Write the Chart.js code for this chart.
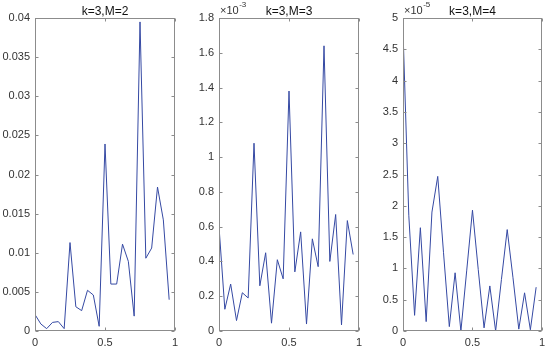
<!DOCTYPE html>
<html>
<head>
<meta charset="utf-8">
<script src="https://cdn.jsdelivr.net/npm/chart.js@4.4.0/dist/chart.umd.min.js"></script>
<style>
  body { margin: 0; background: #fff; width: 550px; height: 352px; position: relative; overflow: hidden; }
  canvas { position: absolute; top: 0; }
</style>
</head>
<body>
<canvas id="c1" width="185" height="352" style="left:0px"></canvas>
<canvas id="c2" width="185" height="352" style="left:184px"></canvas>
<canvas id="c3" width="182" height="352" style="left:368px"></canvas>
<script>
// sample positions, 24 points on [0, 1)
const xPos = [0, 1, 2, 3, 4, 5, 6, 7, 8, 9, 10, 11, 12, 13, 14, 15, 16, 17, 18, 19, 20, 21, 22, 23].map(i => i / 24);
const xTicks = [0, 0.5, 1];

// k=3,M=2 (plain units)
const errM2 = [0.0021, 0.0009, 0.0003, 0.0011, 0.0012, 0.0003, 0.0113, 0.0031, 0.0026, 0.0052, 0.0046, 0.0006,
  0.0239, 0.006, 0.006, 0.0111, 0.0089, 0.0019, 0.0395, 0.0093, 0.0106, 0.0184, 0.0142, 0.004];
const yTicksM2 = [0, 0.005, 0.01, 0.015, 0.02, 0.025, 0.03, 0.035, 0.04];

// k=3,M=3 (x 10^-3)
const errM3 = [0.6, 0.125, 0.27, 0.06, 0.22, 0.19, 1.08, 0.26, 0.45, 0.045, 0.41, 0.3,
  1.38, 0.34, 0.57, 0.04, 0.53, 0.37, 1.64, 0.4, 0.67, 0.035, 0.635, 0.44];
const yTicksM3 = [0, 0.2, 0.4, 0.6, 0.8, 1, 1.2, 1.4, 1.6, 1.8];

// k=3,M=4 (x 10^-5)
const errM4 = [4.8, 1.85, 0.25, 1.65, 0.15, 1.9, 2.47, 1.25, 0.07, 0.93, 0, 0.96,
  1.93, 0.98, 0.05, 0.72, 0, 0.82, 1.62, 0.85, 0.03, 0.61, 0.02, 0.7];
const yTicksM4 = [0, 0.5, 1, 1.5, 2, 2.5, 3, 3.5, 4, 4.5, 5];

const FONT = "'Liberation Sans', Arial, Helvetica, sans-serif";
const TEXT = '#333';
const AXIS = '#8c8c8c';
const LINE = '#3549a3';

// box around the axes, inward ticks on all four sides, title and exponent label
const framePlugin = {
  id: 'frame',
  afterDraw(chart, args, opts) {
    const { ctx, chartArea: a, scales } = chart;
    const l = Math.round(a.left) + 0.5, r = Math.round(a.right) - 0.5;
    const t = Math.round(a.top) + 0.5, b = Math.round(a.bottom) - 0.5;
    ctx.save();
    ctx.strokeStyle = AXIS;
    ctx.lineWidth = 1;
    ctx.strokeRect(l, t, r - l, b - t);
    ctx.beginPath();
    scales.x.ticks.forEach(tk => {
      const px = Math.round(scales.x.getPixelForValue(tk.value)) + 0.5;
      ctx.moveTo(px, b); ctx.lineTo(px, b - 3);
      ctx.moveTo(px, t); ctx.lineTo(px, t + 3);
    });
    scales.y.ticks.forEach(tk => {
      const py = Math.round(scales.y.getPixelForValue(tk.value)) + 0.5;
      ctx.moveTo(l, py); ctx.lineTo(l + 3, py);
      ctx.moveTo(r, py); ctx.lineTo(r - 3, py);
    });
    ctx.stroke();

    ctx.fillStyle = '#111';
    ctx.font = '12px ' + FONT;
    ctx.textAlign = 'center';
    ctx.textBaseline = 'alphabetic';
    ctx.fillText(opts.title, (a.left + a.right) / 2, 15);

    if (opts.exponent) {
      ctx.fillStyle = TEXT;
      ctx.textAlign = 'left';
      ctx.font = '11px ' + FONT;
      const base = '\u00d710';
      ctx.fillText(base, a.left + 1, 14);
      const w = ctx.measureText(base).width;
      ctx.font = '8px ' + FONT;
      ctx.fillText(opts.exponent, a.left + 1 + w + 0.5, 7);
    }
    ctx.restore();
  }
};

function makePanel(id, values, yTicks, title, exponent, padRight) {
  const points = values.map((v, i) => ({ x: xPos[i], y: v }));
  return new Chart(document.getElementById(id), {
    type: 'line',
    data: {
      datasets: [{
        data: points,
        borderColor: LINE,
        borderWidth: 1,
        pointRadius: 0,
        tension: 0,
        fill: false,
      }],
    },
    options: {
      responsive: false,
      animation: false,
      events: [],
      layout: { padding: { top: 18, right: padRight, bottom: 0, left: 0 } },
      plugins: {
        legend: { display: false },
        tooltip: { enabled: false },
        frame: { title: title, exponent: exponent },
      },
      scales: {
        x: {
          type: 'linear',
          min: 0,
          max: 1,
          afterBuildTicks: s => { s.ticks = xTicks.map(v => ({ value: v })); },
          afterFit: s => { s.height = 21; },
          grid: { display: false, drawTicks: false },
          border: { display: false },
          ticks: {
            padding: 5,
            color: TEXT,
            font: { family: FONT, size: 11 },
            maxRotation: 0,
            callback: v => String(v),
          },
        },
        y: {
          type: 'linear',
          min: yTicks[0],
          max: yTicks[yTicks.length - 1],
          afterBuildTicks: s => { s.ticks = yTicks.map(v => ({ value: v })); },
          afterFit: s => { s.width = 35; },
          grid: { display: false, drawTicks: false },
          border: { display: false },
          ticks: {
            padding: 5,
            color: TEXT,
            font: { family: FONT, size: 11 },
            callback: v => String(v),
          },
        },
      },
    },
    plugins: [framePlugin],
  });
}

makePanel('c1', errM2, yTicksM2, 'k=3,M=2', null, 10);
makePanel('c2', errM3, yTicksM3, 'k=3,M=3', '-3', 10);
makePanel('c3', errM4, yTicksM4, 'k=3,M=4', '-5', 6.5);
</script>
</body>
</html>
